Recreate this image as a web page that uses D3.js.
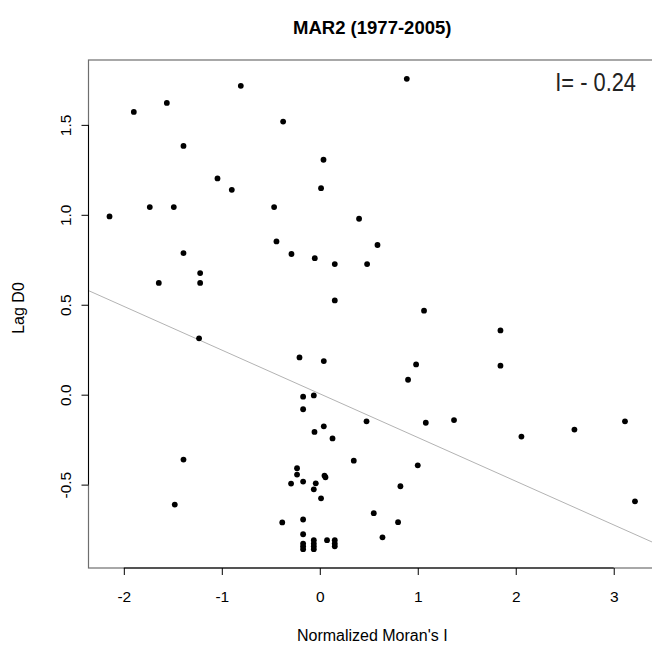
<!DOCTYPE html>
<html><head><meta charset="utf-8">
<script src="https://cdn.jsdelivr.net/npm/d3@7"></script>
<style>body{margin:0;background:#fff}svg{display:block}</style>
</head><body>
<svg id="c" width="652" height="649"></svg>
<script>
const title = "MAR2 (1977-2005)";
const xLabel = "Normalized Moran's I";
const yLabel = "Lag D0";
const statText = "I= - 0.24";
const xTicks = [-2, -1, 0, 1, 2, 3];
const yTicks = [-0.5, 0.0, 0.5, 1.0, 1.5];
const regIntercept = 0.005;
const regSlope = -0.243;
const xs = [-0.806,-1.898,-1.561,-0.374,-1.391,-1.044,-0.898,-2.146,-1.735,-1.490,-0.466,0.888,0.038,0.013,0.401,
 -0.442,-1.391,-1.221,-1.221,-1.643,-1.232,-0.289,-0.051,0.153,0.483,0.589,0.153,1.064,-0.207,0.041,0.983,0.901,
 -0.170,-0.061,-0.170,1.844,1.844,-1.391,-1.480,-0.383,0.477,-0.054,0.041,0.130,0.347,-0.232,-0.232,-0.293,-0.170,
 -0.041,-0.061,0.048,0.058,0.013,0.823,1.000,-0.170,0.551,0.799,0.640,-0.170,-0.170,-0.170,-0.170,
 -0.061,-0.061,-0.061,-0.061,0.074,0.153,0.153,0.153,1.082,1.370,2.058,2.599,3.115,3.217];
const ys = [1.717,1.572,1.622,1.518,1.383,1.202,1.139,0.991,1.043,1.043,1.043,1.756,1.306,1.148,0.978,
 0.852,0.787,0.676,0.621,0.621,0.313,0.782,0.759,0.726,0.726,0.832,0.524,0.467,0.207,0.187,0.168,0.083,
 -0.011,-0.004,-0.081,0.357,0.161,-0.361,-0.611,-0.710,-0.148,-0.207,-0.176,-0.243,-0.367,-0.409,-0.444,-0.494,-0.483,
 -0.493,-0.526,-0.450,-0.459,-0.576,-0.509,-0.393,-0.694,-0.659,-0.709,-0.793,-0.776,-0.828,-0.843,-0.859,
 -0.809,-0.828,-0.843,-0.859,-0.809,-0.809,-0.828,-0.843,-0.156,-0.141,-0.233,-0.194,-0.148,-0.593];

const pts = xs.map((x,i)=>({x, y: ys[i]}));
const svg = d3.select("#c");
const font = "'Liberation Sans', Arial, Helvetica, sans-serif";
const hyph = f => d => f(d).replace("\u2212", "-");

const xExt = d3.extent(xs), yExt = d3.extent(ys);
const xPad = (xExt[1]-xExt[0])*0.04, yPad = (yExt[1]-yExt[0])*0.04;
const L = 88.5, R = 656, T = 60, B = 568;
const x = d3.scaleLinear().domain([xExt[0]-xPad, xExt[1]+xPad]).range([L, R]);
const y = d3.scaleLinear().domain([yExt[0]-yPad, yExt[1]+yPad]).range([B, T]);

const defs = svg.append("defs");
defs.append("clipPath").attr("id","clip").append("rect")
  .attr("x", L).attr("y", T).attr("width", R-L).attr("height", B-T);

// regression line
const xd = x.domain();
svg.append("line").attr("clip-path","url(#clip)")
  .attr("x1", x(xd[0])).attr("y1", y(regIntercept + regSlope*xd[0]))
  .attr("x2", x(xd[1])).attr("y2", y(regIntercept + regSlope*xd[1]))
  .attr("stroke", "#b3b3b3").attr("stroke-width", 1);

// points
svg.append("g").selectAll("circle").data(pts).join("circle")
  .attr("cx", d=>x(d.x)).attr("cy", d=>y(d.y)).attr("r", 2.9).attr("fill", "#000");

// box
svg.append("rect").attr("x", L).attr("y", T).attr("width", R-L).attr("height", B-T)
  .attr("fill","none").attr("stroke","#6e6e6e").attr("stroke-width",1.2);

// axes
const xAxis = d3.axisBottom(x).tickValues(xTicks).tickSize(7).tickPadding(16).tickFormat(hyph(d3.format("d")));
const gx = svg.append("g").attr("transform", `translate(0,${B})`).call(xAxis);
gx.select(".domain").attr("d", `M${x(xTicks[0])},0H${x(xTicks[xTicks.length-1])}`).attr("stroke","#000");
gx.selectAll("text").attr("font-family", font).attr("font-size", 15.5).attr("fill","#000");

const yAxis = d3.axisLeft(y).tickValues(yTicks).tickSize(7).tickFormat(hyph(d3.format(".1f")));
const gy = svg.append("g").attr("transform", `translate(${L},0)`).call(yAxis);
gy.select(".domain").attr("d", `M0,${y(yTicks[0])}V${y(yTicks[yTicks.length-1])}`).attr("stroke","#000");
gy.selectAll("text").attr("font-family", font).attr("font-size", 15.5).attr("fill","#000")
  .attr("x", 0).attr("y", 0).attr("dy", null)
  .attr("transform", "translate(-23,0) rotate(-90)").attr("text-anchor","middle").attr("dominant-baseline","central");

// title
svg.append("text").attr("x", (L+R)/2).attr("y", 34).attr("text-anchor","middle")
  .attr("font-family", font).attr("font-weight","bold").attr("font-size", 18.5).text(title);
// axis labels
svg.append("text").attr("x", (L+R)/2).attr("y", 641).attr("text-anchor","middle")
  .attr("font-family", font).attr("font-size", 16).text(xLabel);
svg.append("text").attr("transform", `translate(24,308) rotate(-90)`).attr("text-anchor","middle")
  .attr("font-family", font).attr("font-size", 16).text(yLabel);
// statistic
svg.append("text").attr("transform", "translate(636,91) scale(0.84,1)").attr("text-anchor","end")
  .attr("font-family", font).attr("font-size", 26)
  .attr("fill","#222").text(statText);
</script>
</body></html>
